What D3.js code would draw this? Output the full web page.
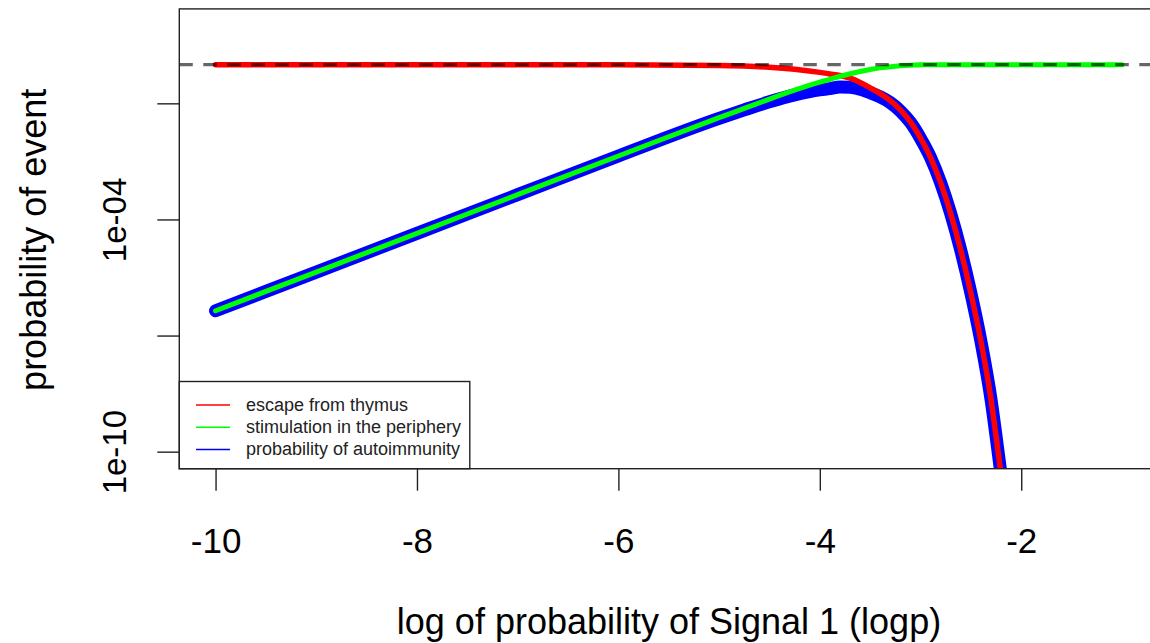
<!DOCTYPE html>
<html>
<head>
<meta charset="utf-8">
<script src="https://cdn.jsdelivr.net/npm/d3@7"></script>
<style>
  html, body { margin: 0; padding: 0; background: #fff; }
  svg { display: block; font-family: "Liberation Sans", Arial, sans-serif; }
</style>
</head>
<body>
<svg id="chart" width="1150" height="643"></svg>
<script>
// log10 of the Signal 1 probability
const logp = [-10, -9, -8, -7, -6, -5, -4.75, -4.5, -4.25, -4, -3.9, -3.8, -3.7, -3.6, -3.5,
  -3.4, -3.3, -3.2, -3.1, -3.0, -2.9, -2.8, -2.7, -2.6, -2.5, -2.4, -2.3, -2.25, -2.2,
  -2.15, -2.1, -2.0, -1.5, -1.0];

// log10 of each probability at the logp values above
const escapeThymus = [0, 0, 0, -0.0002, -0.002, -0.021, -0.038, -0.068, -0.12, -0.2, -0.24, -0.28,
  -0.35, -0.46, -0.6, -0.75, -0.93, -1.17, -1.48, -1.9, -2.4, -3.05, -3.85, -4.8, -5.9, -7.15,
  -8.65, -9.6, -10.6, -11.7, -12.9, -15.5, -59, -187];

const stimPeriphery = [-6.36, -5.36, -4.36, -3.36, -2.36, -1.37, -1.13, -0.89, -0.66, -0.45, -0.38,
  -0.30, -0.236, -0.177, -0.126, -0.084, -0.052, -0.029, -0.014, -0.0055, -0.0018, -0.0004, 0, 0, 0,
  0, 0, 0, 0, 0, 0, 0, 0, 0];

const autoimmunity = [-6.36, -5.36, -4.36, -3.36, -2.36, -1.39, -1.17, -0.96, -0.78, -0.65, -0.62,
  -0.58, -0.586, -0.637, -0.726, -0.834, -0.982, -1.2, -1.494, -1.906, -2.402, -3.05, -3.85, -4.8,
  -5.9, -7.15, -8.65, -9.6, -10.6, -11.7, -12.9, -15.5, -59, -187];

const xTicks = [-10, -8, -6, -4, -2];
const yTicks = [1e-10, 1e-7, 1e-4, 1e-1];
const yTickLabels = ["1e-10", "", "1e-04", ""];
const referenceLevel = 1;

const legendLabels = ["escape from thymus", "stimulation in the periphery", "probability of autoimmunity"];
const seriesColors = ["#ff0000", "#00ff00", "#0000ff"];

const svg = d3.select("#chart");
const plot = { left: 179.3, right: 1158.2, top: 8.9, bottom: 468.7 };

const x = d3.scaleLinear().domain([-10.36, -0.64]).range([plot.left, plot.right]);
const y = d3.scaleLog().domain([Math.pow(10, -10.44), Math.pow(10, 1.44)]).range([plot.bottom, plot.top]);

svg.append("defs").append("clipPath").attr("id", "plotClip")
  .append("rect")
  .attr("x", plot.left).attr("y", plot.top)
  .attr("width", plot.right - plot.left).attr("height", plot.bottom - plot.top);

const toPoints = vals => logp.map((v, i) => [v, Math.pow(10, vals[i])]);
const line = d3.line()
  .x(d => x(d[0]))
  .y(d => y(d[1]))
  .curve(d3.curveMonotoneX);

const curves = svg.append("g").attr("clip-path", "url(#plotClip)");

curves.append("path")
  .attr("d", line(toPoints(autoimmunity)))
  .attr("fill", "none").attr("stroke", seriesColors[2]).attr("stroke-width", 13)
  .attr("stroke-linecap", "round").attr("stroke-linejoin", "round");

curves.append("path")
  .attr("d", line(toPoints(escapeThymus)))
  .attr("fill", "none").attr("stroke", seriesColors[0]).attr("stroke-width", 5.5)
  .attr("stroke-linecap", "round").attr("stroke-linejoin", "round");

curves.append("path")
  .attr("d", line(toPoints(stimPeriphery)))
  .attr("fill", "none").attr("stroke", seriesColors[1]).attr("stroke-width", 5)
  .attr("stroke-linecap", "round").attr("stroke-linejoin", "round");

// horizontal reference line at probability 1
curves.append("line")
  .attr("x1", plot.left).attr("x2", plot.right)
  .attr("y1", y(referenceLevel)).attr("y2", y(referenceLevel))
  .attr("stroke", "#000").attr("stroke-opacity", 0.6)
  .attr("stroke-width", 3.2).attr("stroke-dasharray", "13.5,10.5");

const fontStack = "'Liberation Sans', Arial, sans-serif";

// x axis
const xAxis = d3.axisBottom(x).tickValues(xTicks).tickSize(22).tickPadding(37)
  .tickFormat(d => String(d));
const gx = svg.append("g").attr("transform", `translate(0,${plot.bottom})`).call(xAxis);
gx.select(".domain").remove();
gx.selectAll(".tick line").attr("stroke", "#222").attr("stroke-width", 1.4);
gx.selectAll(".tick text").attr("fill", "#000").attr("font-size", 35)
  .attr("font-family", fontStack);

// y axis
const yAxis = d3.axisLeft(y).tickValues(yTicks).tickSize(22)
  .tickFormat((d, i) => yTickLabels[i]);
const gy = svg.append("g").attr("transform", `translate(${plot.left},0)`).call(yAxis);
gy.select(".domain").remove();
gy.selectAll(".tick line").attr("stroke", "#222").attr("stroke-width", 1.4);
gy.selectAll(".tick text")
  .attr("fill", "#000").attr("font-size", 33)
  .attr("font-family", fontStack)
  .attr("x", null).attr("dy", null)
  .attr("text-anchor", "middle")
  .attr("transform", "translate(-65,0) rotate(-90)")
  .attr("dominant-baseline", "central");

// plot frame
svg.append("rect")
  .attr("x", plot.left).attr("y", plot.top)
  .attr("width", plot.right - plot.left).attr("height", plot.bottom - plot.top)
  .attr("fill", "none").attr("stroke", "#222").attr("stroke-width", 1.4);

// axis titles
svg.append("text")
  .attr("x", 669).attr("y", 634)
  .attr("text-anchor", "middle").attr("font-size", 36).attr("fill", "#000")
  .text("log of probability of Signal 1 (logp)");

svg.append("text")
  .attr("transform", `translate(46,${(plot.top + plot.bottom) / 2 + 1}) rotate(-90)`)
  .attr("text-anchor", "middle").attr("font-size", 36).attr("fill", "#000")
  .text("probability of event");

// legend
const legend = svg.append("g");
legend.append("rect")
  .attr("x", plot.left).attr("y", 381.5).attr("width", 290.5).attr("height", plot.bottom - 381.5)
  .attr("fill", "#fff").attr("stroke", "#222").attr("stroke-width", 1.4);
legendLabels.forEach((label, i) => {
  const cy = 405 + i * 22.2;
  legend.append("line")
    .attr("x1", 196).attr("x2", 230).attr("y1", cy).attr("y2", cy)
    .attr("stroke", seriesColors[i]).attr("stroke-width", 1.5);
  legend.append("text")
    .attr("x", 246).attr("y", cy).attr("dominant-baseline", "central")
    .attr("font-size", 18).attr("fill", "#222").text(label);
});
</script>
</body>
</html>
